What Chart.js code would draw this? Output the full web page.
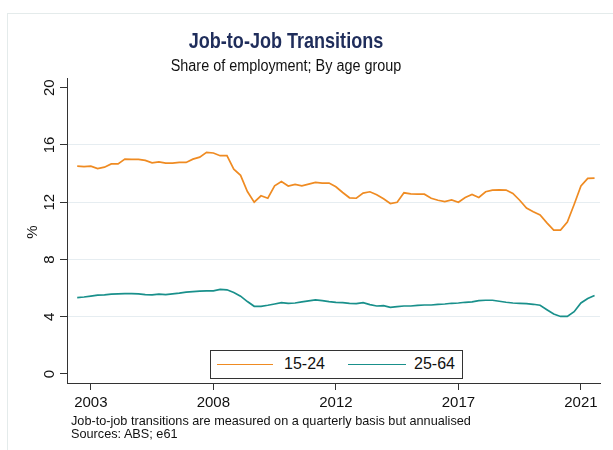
<!DOCTYPE html>
<html>
<head>
<meta charset="utf-8">
<script src="https://cdn.jsdelivr.net/npm/chart.js@4/dist/chart.umd.min.js"></script>
<style>
  body { margin: 0; background: #fff; font-family: "Liberation Sans", Arial, sans-serif; }
  #wrap { position: relative; width: 613px; height: 450px; overflow: hidden; }
  #frame { position: absolute; left: 7px; top: 13px; width: 700px; height: 500px; border: 1px solid #e4ebeb; }
  canvas { position: absolute; left: 0; top: 0; }
  .title { position: absolute; left: 0; width: 572px; text-align: center; white-space: nowrap; }
  #t1 { top: 28px; font-size: 22px; font-weight: bold; color: #1f2d5b; transform: scaleX(0.82); }
  #t2 { top: 57px; font-size: 16px; color: #111; transform: scaleX(0.9); }
  #legend { position: absolute; left: 210px; top: 350px; width: 251px; height: 27px; border: 1px solid #333; background: #fff; font-size: 16px; color: #111; }
  .sw { position: absolute; top: 13px; height: 0; border-top: 1.6px solid; }
  .lt { position: absolute; top: 4px; }
  .note { position: absolute; left: 71px; font-size: 12.7px; color: #111; white-space: nowrap; }
</style>
</head>
<body>
<div id="wrap">
  <div id="frame"></div>
  <canvas id="chart" width="613" height="450"></canvas>
  <div class="title" id="t1">Job-to-Job Transitions</div>
  <div class="title" id="t2">Share of employment; By age group</div>
  <div id="legend">
    <span class="sw" style="left:6px;width:56px;border-color:#ef8b22"></span>
    <span class="lt" style="left:73px">15-24</span>
    <span class="sw" style="left:137px;width:58px;border-color:#19908b"></span>
    <span class="lt" style="left:203px">25-64</span>
  </div>
  <div class="note" style="top:414px">Job-to-job transitions are measured on a quarterly basis but annualised</div>
  <div class="note" style="top:427px">Sources: ABS; e61</div>
</div>
<script>
// quarterly, 2003Q1 .. 2022Q1
const quarters = [];
for (let y = 2003; y <= 2022; y++) {
  for (let q = 1; q <= 4; q++) {
    if (y === 2022 && q > 1) break;
    quarters.push(y + "Q" + q);
  }
}

const youth = [
  14.52, 14.49, 14.52, 14.35, 14.45, 14.68, 14.68, 15.01, 14.99, 14.99,
  14.92, 14.75, 14.82, 14.73, 14.73, 14.78, 14.78, 15.01, 15.15, 15.48,
  15.44, 15.25, 15.25, 14.31, 13.88, 12.75, 12.0, 12.45, 12.28, 13.15,
  13.44, 13.13, 13.25, 13.15, 13.27, 13.39, 13.34, 13.34, 13.08, 12.68,
  12.31, 12.28, 12.64, 12.73, 12.52, 12.24, 11.91, 12.0, 12.66, 12.59,
  12.56, 12.56, 12.28, 12.14, 12.05, 12.16, 12.0, 12.33, 12.54, 12.33,
  12.73, 12.85, 12.87, 12.85, 12.61, 12.14, 11.6, 11.34, 11.11, 10.56,
  10.05, 10.05, 10.61, 11.84, 13.13, 13.67, 13.69
];

const prime = [
  5.34, 5.38, 5.44, 5.51, 5.53, 5.58, 5.60, 5.62, 5.62, 5.60,
  5.55, 5.53, 5.58, 5.55, 5.60, 5.65, 5.72, 5.76, 5.79, 5.81,
  5.81, 5.91, 5.88, 5.69, 5.44, 5.06, 4.73, 4.73, 4.80, 4.89,
  4.99, 4.94, 4.96, 5.04, 5.11, 5.18, 5.13, 5.06, 5.01, 4.99,
  4.94, 4.92, 4.99, 4.85, 4.75, 4.78, 4.66, 4.71, 4.75, 4.75,
  4.80, 4.82, 4.82, 4.87, 4.89, 4.94, 4.96, 5.01, 5.04, 5.13,
  5.15, 5.15, 5.08, 5.01, 4.96, 4.94, 4.92, 4.87, 4.80, 4.49,
  4.19, 4.02, 4.02, 4.35, 4.96, 5.27, 5.48
];

const tickQuarters = ["2003Q3", "2008Q1", "2012Q3", "2017Q1", "2021Q3"];
const tickLabels = ["2003", "2008", "2012", "2017", "2021"];
const yTicks = [0, 4, 8, 12, 16, 20];

const toPoints = (arr) => arr.map((v, i) => ({ x: i, y: v }));

// rotated y tick labels and axis title
const yLabels = {
  id: "yLabels",
  afterDraw(chart) {
    const ctx = chart.ctx;
    const ys = chart.scales.y;
    ctx.save();
    ctx.fillStyle = "#111";
    ctx.font = "15px 'Liberation Sans', Arial, sans-serif";
    ctx.textAlign = "center";
    ctx.textBaseline = "middle";
    yTicks.forEach((v) => {
      const py = ys.getPixelForValue(v);
      ctx.save();
      ctx.translate(50, py);
      ctx.rotate(-Math.PI / 2);
      ctx.fillText(String(v), 0, 0);
      ctx.restore();
    });
    ctx.translate(33, 232);
    ctx.rotate(-Math.PI / 2);
    ctx.fillText("%", 0, 0);
    ctx.restore();
  }
};

new Chart(document.getElementById("chart"), {
  type: "line",
  data: {
    datasets: [
      { label: "15-24", data: toPoints(youth), borderColor: "#ef8b22", borderWidth: 1.7, pointRadius: 0, tension: 0 },
      { label: "25-64", data: toPoints(prime), borderColor: "#19908b", borderWidth: 1.7, pointRadius: 0, tension: 0 }
    ]
  },
  options: {
    responsive: false,
    animation: false,
    layout: { padding: { left: 0, top: 78, right: 13, bottom: 0 } },
    plugins: { legend: { display: false }, tooltip: { enabled: false } },
    scales: {
      x: {
        type: "linear",
        min: -1.5,
        max: 76.8,
        afterBuildTicks: (scale) => {
          scale.ticks = tickQuarters.map((q) => ({ value: quarters.indexOf(q) }));
        },
        afterFit: (scale) => { scale.height = 67; },
        ticks: {
          color: "#111",
          font: { family: "'Liberation Sans', Arial, sans-serif", size: 15 },
          padding: 4,
          maxRotation: 0,
          autoSkip: false,
          callback: (v) => tickLabels[tickQuarters.indexOf(quarters[v])]
        },
        grid: { color: "rgba(0,0,0,0)", tickColor: "#333", tickLength: 7, lineWidth: 1 },
        border: { display: true, color: "#333", width: 1 }
      },
      y: {
        min: -0.63,
        max: 20.68,
        afterBuildTicks: (scale) => {
          scale.ticks = yTicks.map((v) => ({ value: v }));
        },
        afterFit: (scale) => { scale.width = 67; },
        ticks: { color: "rgba(0,0,0,0)", font: { size: 15 }, padding: 2 },
        grid: {
          color: (c) => (c.tick && c.tick.value > 0 && c.tick.value < 20 ? "#e6edf1" : "rgba(0,0,0,0)"),
          tickColor: "#333",
          tickLength: 7,
          lineWidth: 1
        },
        border: { display: true, color: "#333", width: 1 }
      }
    }
  },
  plugins: [yLabels]
});
</script>
</body>
</html>
